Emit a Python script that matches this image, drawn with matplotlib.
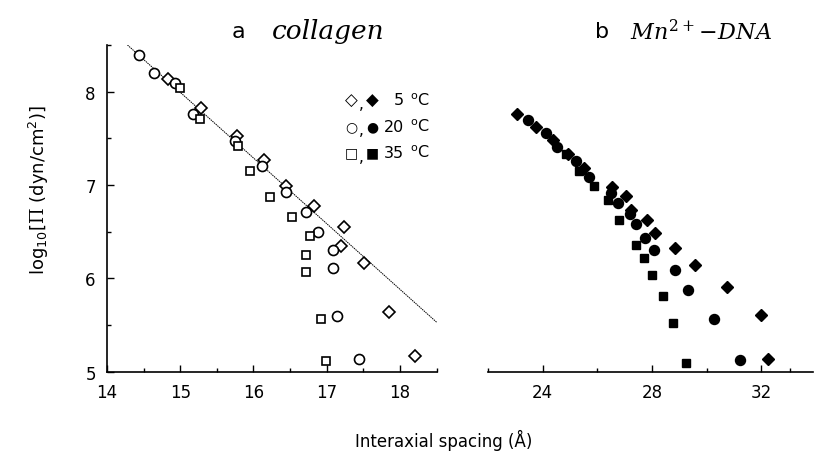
import matplotlib
matplotlib.use("Agg")
import matplotlib.pyplot as plt

# panel a: collagen (open symbols)
col_5_x = [14.84, 15.28, 15.78, 16.15, 16.45, 16.83, 17.19, 17.23, 17.51, 17.85, 18.20]
col_5_y = [8.14, 7.82, 7.53, 7.27, 6.99, 6.77, 6.35, 6.55, 6.16, 5.64, 5.17]
col_20_x = [14.44, 14.64, 14.93, 15.18, 15.75, 16.12, 16.45, 16.72, 16.88, 17.09, 17.09, 17.14, 17.44]
col_20_y = [8.39, 8.20, 8.09, 7.76, 7.47, 7.20, 6.92, 6.71, 6.50, 6.30, 6.11, 5.60, 5.14]
col_35_x = [15.00, 15.27, 15.79, 15.95, 16.23, 16.53, 16.77, 16.72, 16.72, 16.92, 16.99]
col_35_y = [8.04, 7.71, 7.42, 7.15, 6.87, 6.66, 6.45, 6.25, 6.07, 5.56, 5.11]
fit_x = [14.28, 18.5]
fit_y = [8.50, 5.53]

# panel b: Mn2+-DNA (filled symbols)
dna_5_x = [23.06, 23.77, 24.38, 24.92, 25.50, 26.54, 27.07, 27.24, 27.82, 28.13, 28.86, 29.59, 30.75, 32.00, 32.25]
dna_5_y = [7.76, 7.62, 7.48, 7.33, 7.18, 6.98, 6.88, 6.73, 6.63, 6.49, 6.33, 6.14, 5.91, 5.61, 5.14]
dna_20_x = [23.45, 24.12, 24.52, 25.22, 25.71, 26.50, 26.76, 27.21, 27.42, 27.76, 28.07, 28.86, 29.31, 30.26, 31.21]
dna_20_y = [7.70, 7.56, 7.41, 7.26, 7.09, 6.91, 6.81, 6.69, 6.58, 6.43, 6.30, 6.09, 5.87, 5.56, 5.12]
dna_35_x = [24.85, 25.32, 25.89, 26.38, 26.78, 27.42, 27.70, 28.00, 28.40, 28.76, 29.25]
dna_35_y = [7.33, 7.15, 6.99, 6.84, 6.63, 6.36, 6.22, 6.04, 5.81, 5.52, 5.09]

legend_open = ["\u25c7", "\u25cb", "\u25a1"]
legend_filled = ["\u25c6", "\u25cf", "\u25a0"]
legend_sizes = [12, 10, 10]
legend_temps = ["5", "20", "35"]


def main():
    plt.rcParams["mathtext.fontset"] = "dejavuserif"
    plt.rcParams["font.size"] = 12
    fig = plt.figure(figsize=(8.14, 4.56), dpi=100)
    ax1 = fig.add_axes([0.1314, 0.1827, 0.405, 0.7164])
    ax2 = fig.add_axes([0.5995, 0.1827, 0.3993, 0.7164])

    open_kw = dict(ls="none", mfc="white", mec="black", mew=1.2)
    ax1.plot(fit_x, fit_y, color="black", lw=0.7, ls=(0, (1.5, 0.8)))
    ax1.plot(col_5_x, col_5_y, marker="D", ms=6.2, **open_kw)
    ax1.plot(col_20_x, col_20_y, marker="o", ms=7.2, **open_kw)
    ax1.plot(col_35_x, col_35_y, marker="s", ms=5.8, **open_kw)

    fill_kw = dict(ls="none", color="black")
    ax2.plot(dna_5_x, dna_5_y, marker="D", ms=6.2, **fill_kw)
    ax2.plot(dna_20_x, dna_20_y, marker="o", ms=7.2, **fill_kw)
    ax2.plot(dna_35_x, dna_35_y, marker="s", ms=5.8, **fill_kw)

    ax1.set_xlim(14, 18.5)
    ax1.set_ylim(5, 8.5)
    ax1.set_xticks([14, 15, 16, 17, 18])
    ax1.set_xticks([14.5, 15.5, 16.5, 17.5, 18.5], minor=True)
    ax1.set_yticks([5, 6, 7, 8])
    ax1.set_yticks([5.5, 6.5, 7.5, 8.5], minor=True)
    ax1.spines[["top", "right"]].set_visible(False)

    ax2.set_xlim(22, 33.9)
    ax2.set_ylim(5, 8.5)
    ax2.set_xticks([24, 28, 32])
    ax2.set_xticks([22, 26, 30, 33.07], minor=True)
    ax2.set_yticks([])
    ax2.spines[["top", "right", "left"]].set_visible(False)

    for ax in (ax1, ax2):
        ax.tick_params(which="major", direction="in", length=5, width=1, labelsize=12, pad=8)
        ax.tick_params(which="minor", direction="in", length=3, width=1)
        for s in ax.spines.values():
            s.set_linewidth(1.2)

    # hand-made key: open symbol, comma, filled symbol, temperature
    for i in range(3):
        y = 0.832 - 0.08 * i
        tk = dict(transform=ax1.transAxes, va="center", ha="center")
        ax1.text(0.742, y, legend_open[i], fontsize=legend_sizes[i], **tk)
        ax1.text(0.772, y - 0.012, ",", fontsize=11, **tk)
        ax1.text(0.806, y, legend_filled[i], fontsize=legend_sizes[i], **tk)
        ax1.text(0.902, y, legend_temps[i], transform=ax1.transAxes, va="center", ha="right", fontsize=11.5)
        ax1.text(0.92, y, r"$^{\mathsf{o}}$C", transform=ax1.transAxes, va="center", ha="left", fontsize=11.5)

    fig.text(0.284, 0.93, "a", fontsize=16, ha="left", va="center")
    fig.text(0.334, 0.93, "collagen", fontsize=19, family="DejaVu Serif", style="italic",
             ha="left", va="center")
    fig.text(0.731, 0.93, "b", fontsize=16, ha="left", va="center")
    fig.text(0.774, 0.93, r"$Mn^{2+}\!-\!DNA$", fontsize=16, ha="left", va="center")

    fig.text(0.048, 0.583, r"log$_{\mathsf{10}}$[$\Pi$ (dyn/cm$^{\mathsf{2}}$)]", rotation=90,
             ha="center", va="center", fontsize=13)
    fig.text(0.545, 0.035, "Interaxial spacing (\u00c5)", ha="center", va="center", fontsize=12)

    fig.savefig("out.png", dpi=100)
    plt.close(fig)


if __name__ == "__main__":
    main()
